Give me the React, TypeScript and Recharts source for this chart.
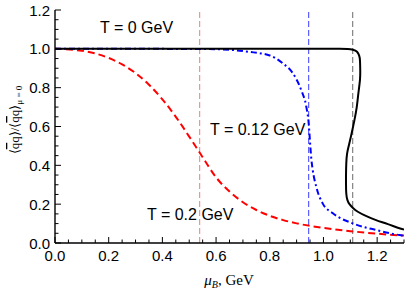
import { LineChart, Line, XAxis, YAxis, ReferenceLine } from "recharts";

// T = 0 GeV (solid black, S-shaped near the first-order transition)
const curveT0 = [
  { x: 0.0, y: 1.0 },
  { x: 0.25, y: 1.0 },
  { x: 0.5, y: 1.0 },
  { x: 0.7, y: 1.0 },
  { x: 0.85, y: 1.0 },
  { x: 0.95, y: 1.0 },
  { x: 1.02, y: 1.0 },
  { x: 1.06, y: 1.0 },
  { x: 1.09, y: 0.999 },
  { x: 1.11, y: 0.995 },
  { x: 1.125, y: 0.985 },
  { x: 1.133, y: 0.965 },
  { x: 1.136, y: 0.94 },
  { x: 1.137, y: 0.89 },
  { x: 1.136, y: 0.84 },
  { x: 1.13, y: 0.77 },
  { x: 1.124, y: 0.7 },
  { x: 1.115, y: 0.63 },
  { x: 1.105, y: 0.565 },
  { x: 1.095, y: 0.505 },
  { x: 1.088, y: 0.46 },
  { x: 1.085, y: 0.41 },
  { x: 1.084, y: 0.35 },
  { x: 1.084, y: 0.3 },
  { x: 1.085, y: 0.255 },
  { x: 1.089, y: 0.222 },
  { x: 1.097, y: 0.2 },
  { x: 1.11, y: 0.18 },
  { x: 1.128, y: 0.161 },
  { x: 1.16, y: 0.138 },
  { x: 1.196, y: 0.118 },
  { x: 1.24, y: 0.097 },
  { x: 1.283, y: 0.076 },
  { x: 1.3, y: 0.07 },
];

// T = 0.12 GeV (blue dot-dash)
const curveT012 = [
  { x: 0.0, y: 1.0 },
  { x: 0.3, y: 1.0 },
  { x: 0.55, y: 0.999 },
  { x: 0.65, y: 0.995 },
  { x: 0.72, y: 0.985 },
  { x: 0.8, y: 0.966 },
  { x: 0.849, y: 0.925 },
  { x: 0.886, y: 0.874 },
  { x: 0.917, y: 0.788 },
  { x: 0.936, y: 0.702 },
  { x: 0.945, y: 0.616 },
  { x: 0.951, y: 0.5 },
  { x: 0.955, y: 0.43 },
  { x: 0.96, y: 0.376 },
  { x: 0.973, y: 0.29 },
  { x: 0.997, y: 0.204 },
  { x: 1.035, y: 0.153 },
  { x: 1.109, y: 0.101 },
  { x: 1.196, y: 0.067 },
  { x: 1.283, y: 0.041 },
  { x: 1.3, y: 0.038 },
];

// T = 0.2 GeV (red dashed)
const curveT02 = [
  { x: 0.0, y: 1.0 },
  { x: 0.1, y: 0.99 },
  { x: 0.2, y: 0.953 },
  { x: 0.25, y: 0.92 },
  { x: 0.3, y: 0.875 },
  { x: 0.35, y: 0.815 },
  { x: 0.4, y: 0.74 },
  { x: 0.45, y: 0.65 },
  { x: 0.5, y: 0.548 },
  { x: 0.55, y: 0.442 },
  { x: 0.6, y: 0.338 },
  { x: 0.65, y: 0.265 },
  { x: 0.7, y: 0.21 },
  { x: 0.75, y: 0.17 },
  { x: 0.8, y: 0.14 },
  { x: 0.85, y: 0.118 },
  { x: 0.9, y: 0.101 },
  { x: 0.95, y: 0.088 },
  { x: 1.0, y: 0.078 },
  { x: 1.1, y: 0.061 },
  { x: 1.2, y: 0.048 },
  { x: 1.3, y: 0.038 },
];

// critical / pseudo-critical chemical potentials
const markers = [
  { x: 0.539, color: "#f27a7a" },
  { x: 0.945, color: "#3d3dff" },
  { x: 1.109, color: "#6a6a6a" },
];

const xTicks = [
  0, 0.05, 0.1, 0.15, 0.2, 0.25, 0.3, 0.35, 0.4, 0.45, 0.5, 0.55, 0.6, 0.65,
  0.7, 0.75, 0.8, 0.85, 0.9, 0.95, 1.0, 1.05, 1.1, 1.15, 1.2, 1.25, 1.3,
];
const xMajor = [0, 0.2, 0.4, 0.6, 0.8, 1.0, 1.2];
const yTicks = [
  0, 0.05, 0.1, 0.15, 0.2, 0.25, 0.3, 0.35, 0.4, 0.45, 0.5, 0.55, 0.6, 0.65,
  0.7, 0.75, 0.8, 0.85, 0.9, 0.95, 1.0, 1.05, 1.1, 1.15, 1.2,
];
const yMajor = [0, 0.2, 0.4, 0.6, 0.8, 1.0, 1.2];

const W = 409;
const H = 294;
const tickFont = "'Liberation Sans', Arial, sans-serif";
const serif = "'Liberation Serif', 'Times New Roman', serif";

const isMajor = (v: number, majors: number[]) =>
  majors.some((m) => Math.abs(m - v) < 1e-6);

function BottomTick(props: any) {
  const { x, y, payload } = props;
  const major = isMajor(payload.value, xMajor);
  return (
    <g>
      <line x1={x} y1={y} x2={x} y2={y - (major ? 6 : 3.5)} stroke="#000" />
      {major && (
        <text x={x} y={y + 18} textAnchor="middle" fontSize={15} fontFamily={tickFont} fill="#000">
          {payload.value.toFixed(1)}
        </text>
      )}
    </g>
  );
}

function TopTick(props: any) {
  const { x, y, payload } = props;
  const major = isMajor(payload.value, xMajor);
  return <line x1={x} y1={y} x2={x} y2={y + (major ? 6 : 3.5)} stroke="#000" />;
}

function LeftTick(props: any) {
  const { x, y, payload } = props;
  const major = isMajor(payload.value, yMajor);
  return (
    <g>
      <line x1={x} y1={y} x2={x + (major ? 6 : 3.5)} y2={y} stroke="#000" />
      {major && (
        <text x={x - 5} y={y + 5.5} textAnchor="end" fontSize={15} fontFamily={tickFont} fill="#000">
          {payload.value.toFixed(1)}
        </text>
      )}
    </g>
  );
}

function RightTick(props: any) {
  const { x, y, payload } = props;
  const major = isMajor(payload.value, yMajor);
  return <line x1={x} y1={y} x2={x - (major ? 6 : 3.5)} y2={y} stroke="#000" />;
}

export default function App() {
  const axisLine = { stroke: "#000", strokeWidth: 1.4 };
  return (
    <div style={{ position: "absolute", left: 0, top: 0, width: W, height: H, background: "#fff" }}>
      <LineChart width={W} height={H} margin={{ top: 10, right: 5, bottom: 0, left: 0 }}>
        <XAxis
          xAxisId="b"
          dataKey="x"
          type="number"
          domain={[0, 1.3]}
          ticks={xTicks}
          interval={0}
          height={51}
          tickSize={0}
          tickMargin={0}
          tickLine={false}
          axisLine={axisLine}
          tick={<BottomTick />}
          allowDataOverflow
        />
        <XAxis
          xAxisId="t"
          orientation="top"
          type="number"
          domain={[0, 1.3]}
          ticks={xTicks}
          interval={0}
          height={0}
          tickSize={0}
          tickMargin={0}
          tickLine={false}
          axisLine={axisLine}
          tick={<TopTick />}
        />
        <YAxis
          yAxisId="l"
          type="number"
          domain={[0, 1.2]}
          ticks={yTicks}
          interval={0}
          width={55}
          tickSize={0}
          tickMargin={0}
          tickLine={false}
          axisLine={axisLine}
          tick={<LeftTick />}
          allowDataOverflow
        />
        <YAxis
          yAxisId="r"
          orientation="right"
          type="number"
          domain={[0, 1.2]}
          ticks={yTicks}
          interval={0}
          width={0}
          tickSize={0}
          tickMargin={0}
          tickLine={false}
          axisLine={axisLine}
          tick={<RightTick />}
        />
        {markers.map((m) => (
          <ReferenceLine
            key={m.x}
            xAxisId="b"
            yAxisId="l"
            x={m.x}
            stroke={m.color}
            strokeWidth={1}
            strokeDasharray="6 3"
          />
        ))}
        <Line
          xAxisId="b"
          yAxisId="l"
          data={curveT02}
          dataKey="y"
          type="monotoneX"
          stroke="#ff0000"
          strokeWidth={2}
          strokeDasharray="7 4"
          dot={false}
          isAnimationActive={false}
        />
        <Line
          xAxisId="b"
          yAxisId="l"
          data={curveT012}
          dataKey="y"
          type="monotoneX"
          stroke="#0000ff"
          strokeWidth={2}
          strokeDasharray="6 3 2 3"
          dot={false}
          isAnimationActive={false}
        />
        <Line
          xAxisId="b"
          yAxisId="l"
          data={curveT0}
          dataKey="y"
          type="natural"
          stroke="#000"
          strokeWidth={2}
          dot={false}
          isAnimationActive={false}
        />
      </LineChart>
      <svg
        width={W}
        height={H}
        style={{ position: "absolute", left: 0, top: 0, pointerEvents: "none" }}
      >
        <g fontFamily={tickFont} fontSize={16} fill="#000">
          <text x={100} y={33}>T = 0 GeV</text>
          <text x={210} y={135}>T = 0.12 GeV</text>
          <text x={147} y={220}>T = 0.2 GeV</text>
        </g>
        <text x={229} y={285} textAnchor="middle" fontFamily={serif} fontSize={15} fill="#000">
          <tspan fontStyle="italic">μ</tspan>
          <tspan fontStyle="italic" fontSize={10} dy={3}>B</tspan>
          <tspan dy={-3}>, GeV</tspan>
        </text>
        <text
          transform="translate(19,120) rotate(-90)"
          textAnchor="middle"
          fontFamily={serif}
          fontSize={13}
          fill="#000"
        >
          <tspan>⟨</tspan>
          <tspan style={{ textDecoration: "overline" }}>q</tspan>
          <tspan>q⟩/⟨</tspan>
          <tspan style={{ textDecoration: "overline" }}>q</tspan>
          <tspan>q⟩</tspan>
          <tspan fontSize={9} dy={3}>μ = 0</tspan>
        </text>
      </svg>
    </div>
  );
}
